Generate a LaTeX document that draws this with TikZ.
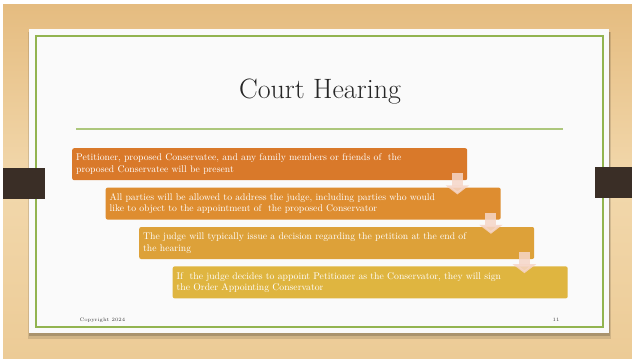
\documentclass[tikz,border=0pt]{standalone}
\usetikzlibrary{positioning,calc,arrows.meta}
\definecolor{woodtop}{RGB}{229,188,128}
\definecolor{woodmid}{RGB}{242,216,172}
\definecolor{woodbot}{RGB}{236,203,150}
\definecolor{strap}{RGB}{58,46,38}
\definecolor{slidegreen}{RGB}{146,180,80}
\definecolor{stepA}{RGB}{217,121,42}
\definecolor{stepB}{RGB}{222,141,48}
\definecolor{stepC}{RGB}{221,161,57}
\definecolor{stepD}{RGB}{223,181,64}
\definecolor{arrowpink}{RGB}{246,214,200}
\tikzset{%
  x=1pt,y=-1pt,
  stepbox/.style={rectangle, rounded corners=2pt, anchor=north west,
    minimum width=395pt, minimum height=32pt, text width=387pt,
    inner sep=4pt, align=left, text=white,
    font=\fontsize{9.7}{11.6}\selectfont},
  flowarrow/.style={draw=arrowpink, line width=11pt, opacity=.85,
    -{Triangle[width=23pt,length=9pt]}},
  titlerule/.style={draw=slidegreen!75!white, line width=1.5pt}
}
\begin{document}
\begin{tikzpicture}
  \useasboundingbox (0,0) rectangle (632,359);
  \fill[white] (0,0) rectangle (632,359);
  % wooden backdrop
  \shade[top color=woodtop, bottom color=woodbot, middle color=woodmid]
    (3,4) rectangle (632,358);
  % slide with shadow
  \fill[black, opacity=.12] (28,32) rectangle (611,339);
  \fill[black, opacity=.18] (29,32) rectangle (610,336);
  \fill[white!98!black] (29,29) rectangle (609,333);
  \draw[slidegreen, line width=2pt] (36,36) rectangle (603,327);
  % straps
  \fill[strap] (3,168) rectangle (45,199);
  \fill[strap] (595,167) rectangle (632,198);
  % title
  \node[anchor=base, font=\fontsize{28}{32}\selectfont, text=black!85]
    (title) at (320,98) {Court Hearing};
  \draw[titlerule] (76,129) -- (563,129);
  % steps
  \node[stepbox, fill=stepA] (b1) at (72,148)
    {Petitioner, proposed Conservatee, and any family members or friends of\ \ the\\
     proposed Conservatee will be present};
  \node[stepbox, fill=stepB] (b2) at ([xshift=33.5pt,yshift=-7pt]b1.south west)
    {All parties will be allowed to address the judge, including parties who would\\
     like to object to the appointment of\ \ the proposed Conservator};
  \node[stepbox, fill=stepC] (b3) at ([xshift=33.5pt,yshift=-7pt]b2.south west)
    {The judge will typically issue a decision regarding the petition at the end of\\
     the hearing};
  \node[stepbox, fill=stepD] (b4) at ([xshift=33.5pt,yshift=-7pt]b3.south west)
    {If\ \ the judge decides to appoint Petitioner as the Conservator, they will sign\\
     the Order Appointing Conservator};
  % arrows between steps
  \foreach \a/\b in {b1/b2,b2/b3,b3/b4}
    \draw[flowarrow] ($(\a.south east)+(-10,-7)$) -- ($(\a.south east |- \b.north)+(-10,7)$);
  % footer
  \node[anchor=base west, font=\fontsize{5}{6}\selectfont, text=black!75]
    (copy) at (76,321) {Copyright 2024};
  \node[anchor=base east, font=\fontsize{5}{6}\selectfont, text=black!75]
    (page) at (563,321) {11};
\end{tikzpicture}
\end{document}
